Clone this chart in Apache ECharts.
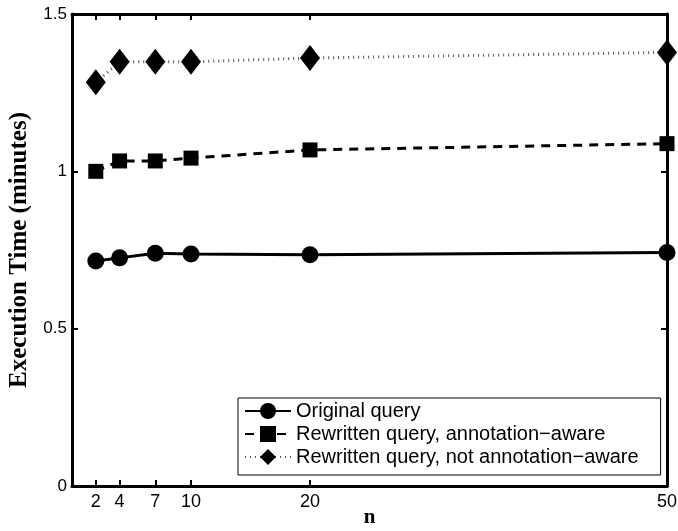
<!DOCTYPE html>
<html lang="en">
  <head>
    <meta charset="UTF-8" />
    <title>Execution Time vs n</title>
    <script src="https://cdn.jsdelivr.net/npm/echarts@6.0.0/dist/echarts.min.js"></script>
    <style>
      html, body { margin: 0; padding: 0; background: #fff; }
    </style>
  </head>
  <body>
    <div id="chart" style="width: 678px; height: 531px"></div>

    <script type="text/javascript">
      // values
      const nValues = [2, 4, 7, 10, 20, 50];
      const originalQuery = [0.715, 0.725, 0.74, 0.737, 0.735, 0.742];
      const rewrittenAware = [1.0, 1.033, 1.033, 1.042, 1.068, 1.088];
      const rewrittenNotAware = [1.283, 1.348, 1.348, 1.348, 1.36, 1.378];
      const yTicks = [0, 0.5, 1, 1.5];

      const seriesNames = [
        "Original query",
        "Rewritten query, annotation\u2212aware",
        "Rewritten query, not annotation\u2212aware",
      ];

      const pairs = (ys) => nValues.map((n, i) => [n, ys[i]]);

      const chart = echarts.init(document.getElementById("chart"));

      const sansFont = "Liberation Sans";
      const serifFont = "Liberation Serif";

      const baseX = {
        type: "value",
        min: 0,
        max: 50,
        axisLine: { show: true, onZero: false, lineStyle: { color: "#000", width: 3 } },
        axisTick: {
          show: true,
          inside: true,
          length: 6,
          customValues: nValues,
          lineStyle: { color: "#000", width: 2 },
        },
        splitLine: { show: false },
      };

      const baseY = {
        type: "value",
        min: 0,
        max: 1.5,
        interval: 0.5,
        axisLine: { show: true, onZero: false, lineStyle: { color: "#000", width: 3 } },
        axisTick: { show: true, inside: true, length: 6, lineStyle: { color: "#000", width: 2 } },
        splitLine: { show: false },
      };

      const option = {
        animation: false,
        backgroundColor: "#fff",
        grid: {
          left: 72,
          right: 11,
          top: 14,
          bottom: 45,
          containLabel: false,
          outerBoundsMode: "none",
        },
        legend: {
          orient: "vertical",
          left: 238,
          top: 398,
          padding: [3, 22, 8, 6],
          itemGap: 3,
          itemWidth: 46,
          itemHeight: 20,
          backgroundColor: "#fff",
          borderColor: "#000",
          borderWidth: 1,
          borderRadius: 0,
          textStyle: { fontFamily: sansFont, fontSize: 20, color: "#000" },
          data: seriesNames,
        },
        xAxis: [
          Object.assign({}, baseX, {
            position: "bottom",
            name: "n",
            nameLocation: "middle",
            nameGap: 21,
            nameMoveOverlap: false,
            nameTextStyle: { fontFamily: serifFont, fontWeight: "bold", fontSize: 21, color: "#000" },
            axisLabel: {
              show: true,
              customValues: nValues,
              margin: 7,
              fontFamily: sansFont,
              fontSize: 18,
              color: "#000",
            },
          }),
          Object.assign({}, baseX, { position: "top", axisLabel: { show: false } }),
        ],
        yAxis: [
          Object.assign({}, baseY, {
            position: "left",
            name: "Execution Time (minutes)",
            nameLocation: "middle",
            nameGap: 40,
            nameMoveOverlap: false,
            nameTextStyle: { fontFamily: serifFont, fontWeight: "bold", fontSize: 25, color: "#000" },
            axisLabel: {
              show: true,
              margin: 5,
              fontFamily: sansFont,
              fontSize: 17,
              color: "#000",
              customValues: yTicks,
            },
          }),
          Object.assign({}, baseY, { position: "right", axisLabel: { show: false } }),
        ],
        series: [
          {
            name: seriesNames[0],
            type: "line",
            data: pairs(originalQuery),
            symbol: "circle",
            symbolSize: 17,
            itemStyle: { color: "#000" },
            lineStyle: { color: "#000", width: 3, type: "solid" },
          },
          {
            name: seriesNames[1],
            type: "line",
            data: pairs(rewrittenAware),
            symbol: "rect",
            symbolSize: 15,
            itemStyle: { color: "#000" },
            lineStyle: { color: "#000", width: 3, type: [9, 7] },
          },
          {
            name: seriesNames[2],
            type: "line",
            data: pairs(rewrittenNotAware),
            symbol: "diamond",
            symbolSize: [20, 26],
            itemStyle: { color: "#000" },
            lineStyle: { color: "#555", width: 3, type: [1, 4] },
          },
        ],
      };

      chart.setOption(option);
    </script>
  </body>
</html>
